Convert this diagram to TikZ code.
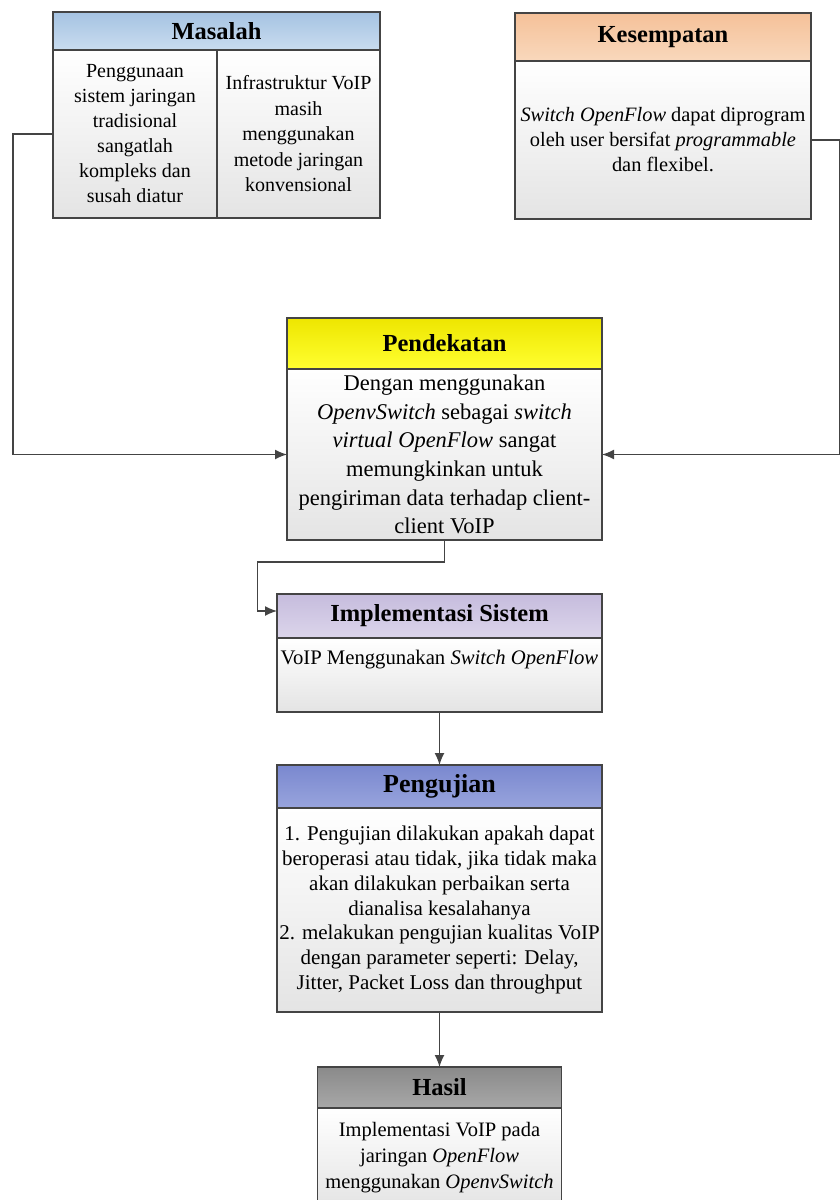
\documentclass[tikz,border=0pt]{standalone}
\usepackage{fontspec}
\setmainfont{Liberation Serif}
\usetikzlibrary{arrows.meta}
\usetikzlibrary{positioning}

\definecolor{linegray}{HTML}{444444}
\definecolor{bodygray}{HTML}{E4E4E4}
\definecolor{blueA}{HTML}{A5C3E2}
\definecolor{blueB}{HTML}{C9DCEF}
\definecolor{peachA}{HTML}{F5C199}
\definecolor{peachB}{HTML}{F9D8BC}
\definecolor{yellowA}{HTML}{EEE600}
\definecolor{yellowB}{HTML}{FFFF30}
\definecolor{lilacA}{HTML}{C6BCDD}
\definecolor{lilacB}{HTML}{DCD5EB}
\definecolor{indigoA}{HTML}{7A88CF}
\definecolor{indigoB}{HTML}{98A4DD}
\definecolor{grayA}{HTML}{8A8A8A}
\definecolor{grayB}{HTML}{A8A8A8}

\begin{document}
\begin{tikzpicture}[x=1pt,y=-1pt,
  every node/.style={outer sep=0pt},
  hd/.style={draw=linegray, line width=1.4pt, inner sep=0pt,
    font=\fontsize{24.5}{28}\selectfont\bfseries},
  bd/.style={draw=linegray, line width=1.4pt, inner sep=0pt, align=center,
    top color=white, bottom color=bodygray},
  con/.style={draw=linegray, line width=1.4pt},
  arr/.style={con, -{Latex[length=12pt,width=10pt]}}
]
\useasboundingbox (0,0) rectangle (840,1200);

% Masalah
\node[hd, top color=blueA, bottom color=blueB, minimum width=327, minimum height=38] (mh) at (216.5,31) {Masalah};
\node[bd, minimum width=164, minimum height=168, font=\fontsize{20}{25}\selectfont] (ml) at (135,134)
  {Penggunaan\\ sistem jaringan\\ tradisional\\ sangatlah\\ kompleks dan\\ susah diatur};
\node[bd, minimum width=163, minimum height=168, font=\fontsize{20}{25.5}\selectfont] (mr) at (298.5,134)
  {Infrastruktur VoIP\\ masih\\ menggunakan\\ metode jaringan\\ konvensional};

% Kesempatan
\node[hd, top color=peachA, bottom color=peachB, minimum width=296, minimum height=48] (kh) at (663,37) {Kesempatan};
\node[bd, minimum width=296, minimum height=158, font=\fontsize{20.4}{25}\selectfont] (kb) at (663,140)
  {\textit{Switch OpenFlow} dapat diprogram\\ oleh user bersifat \textit{programmable}\\ dan flexibel.};

% Pendekatan
\node[hd, top color=yellowA, bottom color=yellowB, minimum width=315, minimum height=51] (ph) at (444.5,343.5) {Pendekatan};
\node[bd, minimum width=315, minimum height=171, font=\fontsize{22.5}{28.7}\selectfont] (pb) at (444.5,454.5)
  {Dengan menggunakan\\ \textit{OpenvSwitch} sebagai \textit{switch}\\ \textit{virtual OpenFlow} sangat\\ memungkinkan untuk\\ pengiriman data terhadap client-\\ client VoIP};

% Implementasi Sistem
\node[hd, top color=lilacA, bottom color=lilacB, minimum width=325, minimum height=44] (ih) at (439.5,616) {Implementasi Sistem};
\node[bd, minimum width=325, minimum height=74, font=\fontsize{20.7}{25}\selectfont] (ib) at (439.5,675)
  {VoIP Menggunakan \textit{Switch OpenFlow}\\[10pt]};

% Pengujian
\node[hd, top color=indigoA, bottom color=indigoB, minimum width=325, minimum height=43,
  font=\fontsize{26}{30}\selectfont\bfseries] (gh) at (439.5,786.5) {Pengujian};
\node[bd, minimum width=325, minimum height=204, font=\fontsize{21}{24.8}\selectfont] (gb) at (439.5,910)
  {1. Pengujian dilakukan apakah dapat\\ beroperasi atau tidak, jika tidak maka\\ akan dilakukan perbaikan serta\\ dianalisa kesalahanya\\ 2. melakukan pengujian kualitas VoIP\\ dengan parameter seperti: Delay,\\ Jitter, Packet Loss dan throughput};

% Hasil
\node[hd, top color=grayA, bottom color=grayB, minimum width=244, minimum height=41] (hh) at (439.5,1087.5) {Hasil};
\node[bd, minimum width=244, minimum height=100, font=\fontsize{20.5}{26}\selectfont] (hb) at (439.5,1158)
  {Implementasi VoIP pada\\ jaringan \textit{OpenFlow}\\ menggunakan \textit{OpenvSwitch}};

% garis penghubung
\draw[arr] (ml.west) -- ++(-40,0) |- (pb.west);
\draw[arr] (kb.east) -- ++(29,0) |- (pb.east);
\draw[arr] (pb.south) -- ++(0,22) -- ++(-187,0) |- ([yshift=5pt]ih.west);
\draw[arr] (ib.south) -- (gh.north);
\draw[arr] (gb.south) -- (hh.north);
\end{tikzpicture}
\end{document}
